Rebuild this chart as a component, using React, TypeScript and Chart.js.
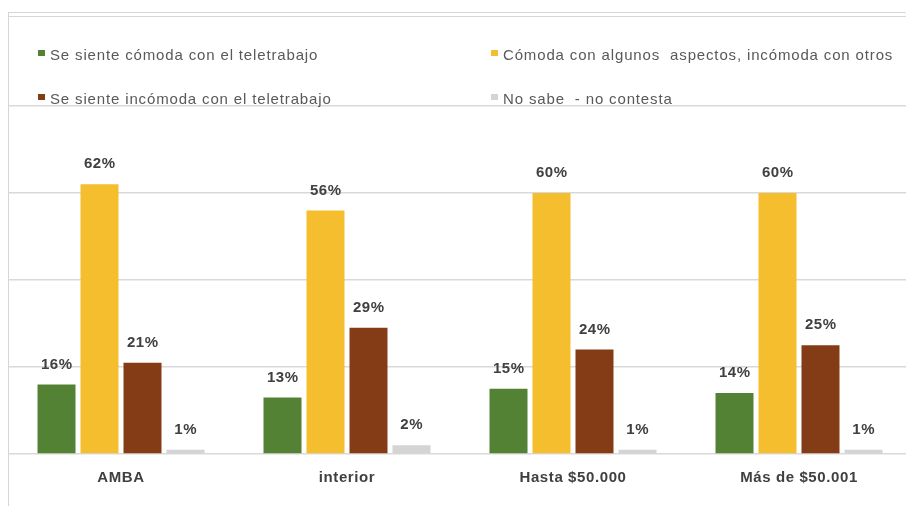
import React, { useEffect, useRef } from "react";
import { Chart, registerables } from "chart.js";

Chart.register(...registerables);

const categories = ["AMBA", "interior", "Hasta $50.000", "Más de $50.001"];
const seriesNames = [
  "Se siente cómoda con el teletrabajo",
  "Cómoda con algunos  aspectos, incómoda con otros",
  "Se siente incómoda con el teletrabajo",
  "No sabe  - no contesta",
];
const comoda = [16, 13, 15, 14];
const algunos = [62, 56, 60, 60];
const incomoda = [21, 29, 24, 25];
const noSabe = [1, 2, 1, 1];
const seriesColors = ["#548235", "#F4BE2F", "#843C17", "#D4D4D4"];
const yTicks = [0, 20, 40, 60, 80];

const FONT = "'Liberation Sans', Arial, sans-serif";

const decorPlugin = {
  id: "decor",
  beforeDraw(chart: any) {
    const ctx = chart.ctx;
    ctx.letterSpacing = "0.6px";
    ctx.save();
    ctx.strokeStyle = "#d6d6d6";
    ctx.lineWidth = 1;
    ctx.beginPath();
    ctx.moveTo(8, 12.5);
    ctx.lineTo(chart.width, 12.5);
    ctx.moveTo(8, 16.5);
    ctx.lineTo(chart.width, 16.5);
    ctx.moveTo(8.5, 12);
    ctx.lineTo(8.5, chart.height);
    ctx.stroke();
    ctx.restore();
  },
  afterDraw(chart: any) {
    const ctx = chart.ctx;
    ctx.save();
    ctx.letterSpacing = "0.85px";
    ctx.font = `15px ${FONT}`;
    ctx.textBaseline = "middle";
    ctx.textAlign = "left";
    const cols = [38, 491];
    const rows = [56, 100];
    chart.data.datasets.forEach((ds: any, i: number) => {
      const x = cols[i % 2];
      const y = rows[Math.floor(i / 2)];
      ctx.fillStyle = ds.backgroundColor;
      ctx.fillRect(x, y - 6, 7, 6);
      ctx.fillStyle = "#595959";
      ctx.fillText(ds.label, x + 12, y);
    });
    ctx.restore();
  },
  afterDatasetsDraw(chart: any) {
    const ctx = chart.ctx;
    ctx.save();
    ctx.letterSpacing = "0.6px";
    ctx.font = `bold 15px ${FONT}`;
    ctx.fillStyle = "#404040";
    ctx.textAlign = "center";
    ctx.textBaseline = "middle";
    chart.data.datasets.forEach((ds: any, i: number) => {
      const meta = chart.getDatasetMeta(i);
      meta.data.forEach((el: any, j: number) => {
        ctx.fillText(`${ds.data[j]}%`, el.x + 0.3, el.y - 20);
      });
    });
    ctx.restore();
  },
};

export default function App() {
  const ref = useRef<HTMLCanvasElement | null>(null);
  useEffect(() => {
    if (!ref.current) return;
    const values = [comoda, algunos, incomoda, noSabe];
    const chart = new Chart(ref.current, {
      type: "bar",
      data: {
        labels: categories,
        datasets: values.map((v, i) => ({
          label: seriesNames[i],
          data: v,
          backgroundColor: seriesColors[i],
          borderWidth: 0,
          categoryPercentage: 0.761,
          barPercentage: 0.884,
        })),
      },
      options: {
        animation: false,
        responsive: false,
        layout: { padding: { left: 8, right: 0, top: 106, bottom: 0 } },
        plugins: {
          legend: { display: false },
          tooltip: { enabled: false },
        },
        scales: {
          x: {
            grid: { display: false, drawTicks: false },
            border: { display: false },
            ticks: {
              padding: 15,
              color: "#404040",
              font: { family: FONT, size: 15, weight: "bold" },
            },
            afterFit: (s: any) => {
              s.height = 52;
            },
          },
          y: {
            min: 0,
            max: 80,
            afterBuildTicks: (s: any) => {
              s.ticks = yTicks.map((v) => ({ value: v }));
            },
            ticks: { display: false },
            grid: { color: "#d9d9d9", lineWidth: 1.6, drawTicks: false },
            border: { display: false },
            afterFit: (s: any) => {
              s.width = 0;
            },
          },
        },
      },
      plugins: [decorPlugin],
    });
    return () => chart.destroy();
  }, []);
  return (
    <div
      style={{
        position: "fixed",
        left: 0,
        top: 0,
        width: 906,
        height: 506,
        overflow: "hidden",
        background: "#ffffff",
      }}
    >
      <canvas ref={ref} width={912} height={506} style={{ display: "block", width: 912, height: 506 }} />
    </div>
  );
}
